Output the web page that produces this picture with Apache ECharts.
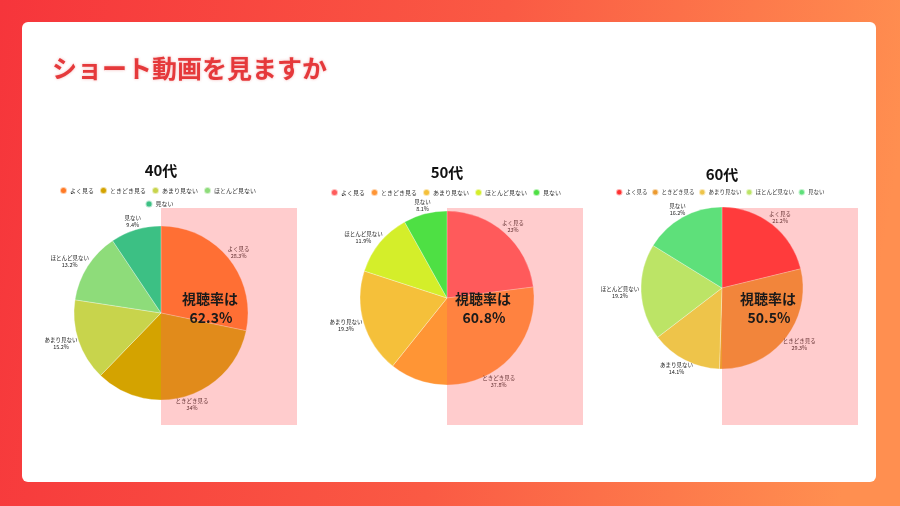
<!DOCTYPE html>
<html><head><meta charset="utf-8">
<script src="https://cdn.jsdelivr.net/npm/echarts@6/dist/echarts.min.js"></script>
<style>html,body{margin:0;padding:0;background:#fff;} #c{width:900px;height:506px;}</style>
</head><body><div id="c"></div>
<script>
// ---- data ----
const mainTitle = 'ショート動画を見ますか';
const categories = ['よく見る', 'ときどき見る', 'あまり見ない', 'ほとんど見ない', '見ない'];
const groupNames = ['40代', '50代', '60代'];
const values40 = [28.3, 34, 15.2, 13.2, 9.4];
const values50 = [23, 37.8, 19.3, 11.9, 8.1];
const values60 = [21.2, 29.3, 14.1, 19.2, 16.2];
const rateLabel = '視聴率は';

// ---- styles ----
const colors40 = ['#FF7A25', '#D4A300', '#C8D44C', '#8EDC7A', '#3CC084'];
const colors50 = ['#FF5C5C', '#FF9535', '#F5C03A', '#D4EE2A', '#4EE044'];
const colors60 = ['#FF3030', '#EC9A2E', '#EEC44A', '#BCE466', '#5EE07A'];
const FONT = '"Noto Sans CJK JP", "Noto Sans", sans-serif';
const pies = [
  {values: values40, colors: colors40, center: [161, 313], r: 87, title: [161, 170], legend: [{left: 59, top: 186, names: categories.slice(0, 4)}, {left: 144.5, top: 199.5, names: categories.slice(4)}], fs: 6, gap: 5},
  {values: values50, colors: colors50, center: [447, 298], r: 87, title: [447, 172], legend: [{left: 330, top: 188, names: categories}], fs: 6, gap: 5},
  {values: values60, colors: colors60, center: [722, 288], r: 81, title: [722, 174], legend: [{left: 615, top: 188, names: categories}], fs: 5.5, gap: 3.5}
];
const GAP = 2;

const chart = echarts.init(document.getElementById('c'));

function labelLayout(p) {
  const pts = p.labelLinePoints;
  if (!pts || pts.length < 2) return {};
  const ex = pts[0][0], ey = pts[0][1];
  let dx = pts[1][0] - ex, dy = pts[1][1] - ey;
  const len = Math.hypot(dx, dy) || 1; dx /= len; dy /= len;
  const w = p.labelRect.width, h = p.labelRect.height;
  return {x: ex + dx * (GAP + w / 2), y: ey + dy * (GAP + h / 2), align: 'center', verticalAlign: 'middle'};
}

const series = [], legends = [], graphics = [];

graphics.push({type: 'rect', z: -20, shape: {x: 0, y: 0, width: 900, height: 506},
  style: {fill: new echarts.graphic.LinearGradient(0, 0, 1, 0.3, [{offset: 0, color: '#F6353B'}, {offset: 0.55, color: '#FA5A44'}, {offset: 1, color: '#FF8F50'}])}});
graphics.push({type: 'rect', z: -19, shape: {x: 22, y: 22, width: 854, height: 460, r: 6}, style: {fill: '#ffffff'}});
graphics.push({type: 'text', z: 50, x: 52, y: 68, style: {text: mainTitle, fill: '#E5393B', font: 'bold 25px ' + FONT, textVerticalAlign: 'middle', textShadowColor: 'rgba(220,40,40,0.35)', textShadowBlur: 3}});

pies.forEach((pc, i) => {
  series.push({
    type: 'pie', name: groupNames[i], center: pc.center, radius: pc.r, startAngle: 90, clockwise: true,
    avoidLabelOverlap: false, animation: false,
    itemStyle: {borderColor: 'rgba(255,255,255,0.6)', borderWidth: 0.5},
    label: {show: true, position: 'outside', fontSize: 5.5, lineHeight: 7, color: '#222', fontFamily: FONT,
      formatter: p => p.name + '\n' + p.value + '%'},
    labelLine: {show: true, length: 5, length2: 0, lineStyle: {opacity: 0}},
    labelLayout: labelLayout,
    emphasis: {disabled: true},
    data: categories.map((c, k) => ({name: c, value: pc.values[k], itemStyle: {color: pc.colors[k]}}))
  });
  pc.legend.forEach(lg => {
    legends.push({
      left: lg.left, top: lg.top, padding: 0, orient: 'horizontal', icon: 'circle',
      itemWidth: pc.fs + 1, itemHeight: pc.fs + 1, itemGap: pc.gap, selectedMode: false,
      textStyle: {fontSize: pc.fs, color: '#333', fontFamily: FONT, padding: [0, 0, 0, -2]},
      data: lg.names.map(n => ({name: n, itemStyle: {color: pc.colors[categories.indexOf(n)]}}))
    });
  });
  // highlight rectangle (right half)
  graphics.push({type: 'rect', z: 5, shape: {x: pc.center[0], y: 208, width: 136, height: 217}, style: {fill: 'rgba(255,85,90,0.3)'}});
  // group title
  graphics.push({type: 'text', z: 50, x: pc.title[0], y: pc.title[1], style: {text: groupNames[i], fill: '#111', font: 'bold 15px ' + FONT, textAlign: 'center', textVerticalAlign: 'middle'}});
  // viewing rate
  const rate = (pc.values[0] + pc.values[1]).toFixed(1) + '%';
  const tx = pc.center[0] + (i === 0 ? 49 : i === 1 ? 36 : 46);
  graphics.push({type: 'text', z: 50, x: tx, y: 299, style: {text: rateLabel, fill: '#1a1a1a', font: 'bold 14px ' + FONT, textAlign: 'center', textVerticalAlign: 'middle'}});
  graphics.push({type: 'text', z: 50, x: tx + 1, y: 318, style: {text: rate, fill: '#1a1a1a', font: 'bold 14px ' + FONT, textAlign: 'center', textVerticalAlign: 'middle'}});
});

chart.setOption({
  animation: false,
  legend: legends,
  series: series,
  graphic: graphics
});
</script>
</body></html>
